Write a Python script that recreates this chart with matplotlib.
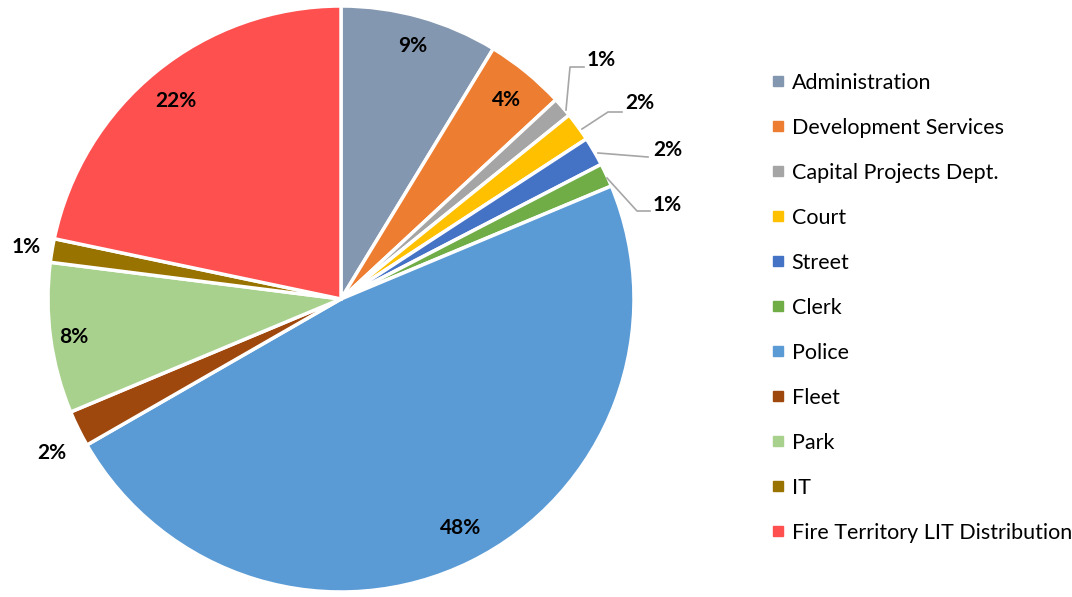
import matplotlib.pyplot as plt
from matplotlib.lines import Line2D

# Department shares of the total (percent)
departments = ['Administration', 'Development Services', 'Capital Projects Dept.', 'Court',
               'Street', 'Clerk', 'Police', 'Fleet', 'Park', 'IT',
               'Fire Territory LIT Distribution']
shares = [8.7, 4.4, 1.1, 1.6, 1.6, 1.3, 48.0, 2.0, 8.3, 1.3, 21.7]
colors = ['#8497B0', '#ED7D31', '#A5A5A5', '#FFC000', '#4472C4', '#70AD47',
          '#5B9BD5', '#9E480E', '#A9D18E', '#997300', '#FF5050']

plt.rcParams['font.family'] = ['Lato', 'DejaVu Sans']

fig = plt.figure(figsize=(10.72, 5.97), dpi=100)
W, H = 1072, 597
cx, cy, R = 341, 299, 293
ax = fig.add_axes([(cx - R) / W, (H - cy - R) / H, 2 * R / W, 2 * R / H])

wedges, _ = ax.pie(shares, colors=colors, startangle=90, counterclock=False, radius=1,
                   wedgeprops=dict(edgecolor='white', linewidth=2.5))
ax.set_xlim(-1, 1)
ax.set_ylim(-1, 1)
ax.set_aspect('equal')
ax.axis('off')


def px(x, y):
    # pixel position -> data coordinates of the pie axes
    return (x - cx) / R, (cy - y) / R


labels = [f'{round(v)}%' for v in shares]
lbl_font = dict(fontsize=15, fontweight='bold', color='black', ha='center', va='center')

# labels placed inside the larger wedges
inside = {0: (413, 46), 1: (506, 100), 6: (461, 528), 8: (74, 337), 10: (176, 101)}
for i, (x, y) in inside.items():
    ax.text(*px(x, y), labels[i], **lbl_font)

# labels outside without leaders
outside = {9: (26, 247), 7: (52, 453)}
for i, (x, y) in outside.items():
    ax.text(*px(x, y), labels[i], **lbl_font)

# labels with leader lines
leaders = {
    2: ((601, 60), [(566, 110), (570, 67), (584, 67)]),
    3: ((640, 103), [(582, 129), (608, 112), (622, 112)]),
    4: ((668, 150), [(598, 153), (648, 157)]),
    5: ((667, 205), [(607, 178), (637, 211), (650, 211)]),
}
for i, ((tx, ty), pts) in leaders.items():
    xs, ys = zip(*[px(x, y) for x, y in pts])
    ax.plot(xs, ys, color='#A6A6A6', lw=1.2, clip_on=False)
    ax.text(*px(tx, ty), labels[i], **lbl_font)

handles = [Line2D([], [], marker='s', linestyle='none', markersize=7,
                  markerfacecolor=c, markeredgecolor=c) for c in colors]
fig.legend(handles, departments, loc='upper left', bbox_to_anchor=(770 / W, 1 - 73 / H),
           frameon=False, fontsize=15.5, labelspacing=1.16, handlelength=0.7,
           handletextpad=0.3, borderaxespad=0, borderpad=0)

fig.savefig('out.png', dpi=100, facecolor='white')
